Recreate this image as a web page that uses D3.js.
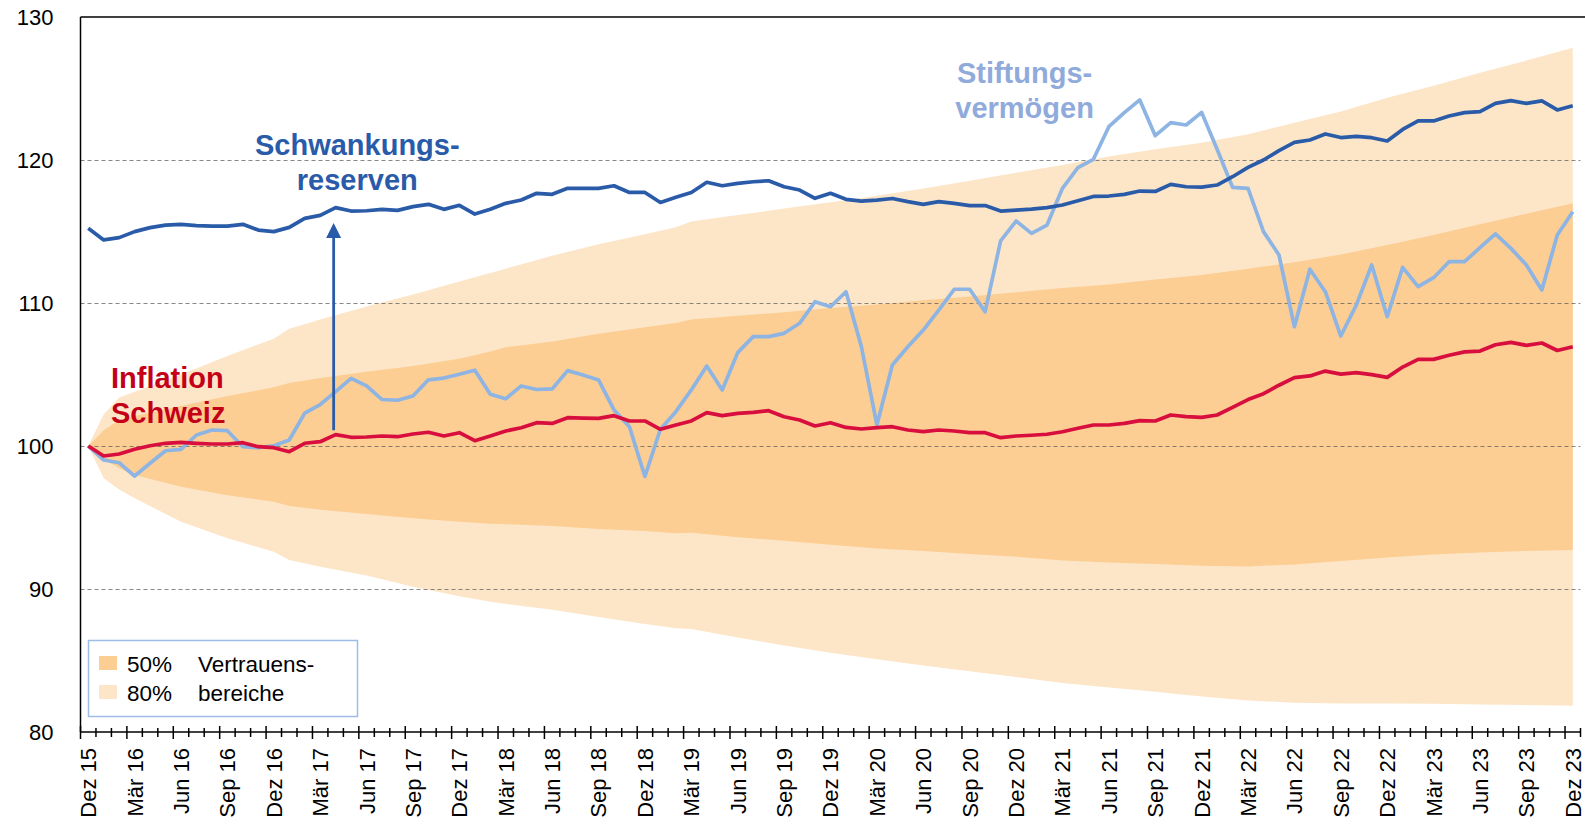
<!DOCTYPE html>
<html lang="de">
<head>
<meta charset="utf-8">
<title>Schwankungsreserven vs. Inflation</title>
<script src="https://cdn.jsdelivr.net/npm/d3@7"></script>
<style>
  body { margin: 0; background: #fff; }
  svg { display: block; font-family: Arial, "Liberation Sans", sans-serif; }
</style>
</head>
<body>
<svg id="chart" width="1585" height="824"></svg>
<script>
// Monatswerte Dez 15 .. Dez 23 (97 Monate), Index Dez 15 = 100
const tickLabels = [
  "Dez 15", "Mär 16", "Jun 16", "Sep 16", "Dez 16", "Mär 17", "Jun 17", "Sep 17", "Dez 17",
  "Mär 18", "Jun 18", "Sep 18", "Dez 18", "Mär 19", "Jun 19", "Sep 19", "Dez 19",
  "Mär 20", "Jun 20", "Sep 20", "Dez 20", "Mär 21", "Jun 21", "Sep 21", "Dez 21",
  "Mär 22", "Jun 22", "Sep 22", "Dez 22", "Mär 23", "Jun 23", "Sep 23", "Dez 23",
];

const reserven = [
  115.22, 114.41, 114.57, 114.99, 115.27, 115.45, 115.5, 115.41, 115.38, 115.38, 115.5, 115.1,
  114.99, 115.29, 115.92, 116.13, 116.67, 116.43, 116.45, 116.55, 116.48, 116.74, 116.9, 116.55,
  116.83, 116.22, 116.55, 116.97, 117.2, 117.67, 117.6, 118.02, 118.02, 118.02, 118.2, 117.73,
  117.73, 117.03, 117.39, 117.73, 118.44, 118.2, 118.37, 118.48, 118.55, 118.13, 117.9, 117.32,
  117.67, 117.25, 117.13, 117.2, 117.31, 117.09, 116.9, 117.09, 116.97, 116.81, 116.81, 116.43,
  116.5, 116.57, 116.67, 116.85, 117.15, 117.45, 117.48, 117.6, 117.83, 117.8, 118.3, 118.13,
  118.1, 118.25, 118.83, 119.48, 120.0, 120.65, 121.23, 121.4, 121.82, 121.57, 121.65, 121.56,
  121.33, 122.14, 122.73, 122.73, 123.08, 123.31, 123.38, 123.96, 124.15, 123.96, 124.13, 123.5,
  123.8,
];

const stiftung = [
  100, 99.02, 98.83, 97.9, 98.79, 99.67, 99.77, 100.77, 101.12, 101.07, 99.95, 99.88,
  100.02, 100.42, 102.3, 102.9, 103.8, 104.73, 104.2, 103.25, 103.2, 103.5, 104.63, 104.75,
  105.02, 105.3, 103.62, 103.3, 104.2, 103.95, 103.99, 105.27, 104.97, 104.62, 102.52, 101.35,
  97.87, 101.17, 102.4, 103.92, 105.59, 103.92, 106.53, 107.65, 107.65, 107.88, 108.58, 110.09,
  109.74, 110.79, 106.94, 101.47, 105.66, 106.94, 108.11, 109.51, 110.96, 110.96, 109.39, 114.34,
  115.73, 114.87, 115.45, 118.02, 119.46, 120.05, 122.33, 123.31, 124.2, 121.7, 122.61, 122.45,
  123.33, 120.75, 118.09, 118.02, 114.99, 113.36, 108.34, 112.36, 110.79, 107.69, 109.85, 112.66,
  109.04, 112.49, 111.14, 111.77, 112.89, 112.89, 113.87, 114.83, 113.82, 112.66, 110.91, 114.76,
  116.38,
];

const inflation = [
  100, 99.3, 99.44, 99.77, 100.02, 100.19, 100.26, 100.19, 100.14, 100.14, 100.23, 99.95,
  99.88, 99.6, 100.19, 100.3, 100.8, 100.61, 100.63, 100.7, 100.65, 100.84, 100.96, 100.7,
  100.93, 100.37, 100.7, 101.05, 101.28, 101.63, 101.58, 101.98, 101.95, 101.93, 102.12, 101.75,
  101.75, 101.17, 101.47, 101.75, 102.33, 102.12, 102.28, 102.35, 102.47, 102.05, 101.82, 101.4,
  101.63, 101.3, 101.19, 101.28, 101.35, 101.12, 101.0, 101.12, 101.05, 100.93, 100.93, 100.58,
  100.7, 100.75, 100.82, 101.0, 101.24, 101.47, 101.47, 101.58, 101.77, 101.75, 102.17, 102.05,
  102.0, 102.17, 102.7, 103.25, 103.66, 104.25, 104.78, 104.9, 105.24, 105.03, 105.13, 104.99,
  104.8, 105.52, 106.06, 106.06, 106.35, 106.58, 106.64, 107.08, 107.25, 107.04, 107.2, 106.68,
  106.94,
];

const bandMonths = [
  0, 1, 2, 3, 6, 9, 12, 13, 15, 18, 21, 24, 26, 27, 30, 33, 36, 38, 39,
  42, 45, 48, 51, 54, 57, 60, 63, 66, 69, 72, 75, 78, 81, 84, 87, 90, 93, 96,
];
const upper80 = [
  100, 102.2, 103.4, 103.8, 105.0, 106.3, 107.5, 108.2, 108.85, 109.75, 110.6, 111.5, 112.1, 112.4,
  113.3, 114.1, 114.8, 115.3, 115.7, 116.15, 116.6, 117.05, 117.5, 118.0, 118.55, 119.1, 119.65,
  120.25, 120.75, 121.2, 121.8, 122.6, 123.4, 124.35, 125.2, 126.1, 126.95, 127.85,
];
const upper50 = [
  100, 101.1, 101.8, 102.1, 102.8, 103.5, 104.1, 104.4, 104.75, 105.2, 105.6, 106.1, 106.6, 106.9,
  107.3, 107.85, 108.3, 108.6, 108.85, 109.1, 109.35, 109.65, 109.9, 110.2, 110.45, 110.75, 111.05,
  111.3, 111.65, 111.95, 112.4, 112.85, 113.4, 114.05, 114.75, 115.5, 116.25, 116.97,
];
const lower50 = [
  100, 99.07, 98.45, 97.97, 97.15, 96.55, 96.1, 95.8, 95.55, 95.25, 94.94, 94.7, 94.57, 94.53,
  94.4, 94.2, 94.05, 93.9, 93.94, 93.62, 93.38, 93.1, 92.83, 92.65, 92.45, 92.25, 92.0,
  91.85, 91.75, 91.62, 91.58, 91.72, 91.95, 92.2, 92.42, 92.55, 92.65, 92.73,
];
const lower80 = [
  100, 97.74, 96.95, 96.35, 94.7, 93.55, 92.6, 92.03, 91.55, 90.95, 90.16, 89.5, 89.1, 88.95,
  88.55, 88.05, 87.55, 87.25, 87.2, 86.6, 86.05, 85.55, 85.08, 84.65, 84.25, 83.85, 83.42,
  83.12, 82.82, 82.48, 82.2, 82.05, 82.0, 82.0, 81.97, 81.93, 81.88, 81.84,
];

const yTicks = [80, 90, 100, 110, 120, 130];
const gridValues = [90, 100, 110, 120];

const colors = {
  band80: "#FDE6C8",
  band50: "#FCCE94",
  reserven: "#2A5BA8",
  stiftung: "#8DB4E2",
  stiftungText: "#90ABDB",
  inflation: "#D80F3E",
  inflationText: "#C40018",
};

function renderChart() {
  const svg = d3.select("#chart"),
    margin = { top: 17, right: 4.5, bottom: 92, left: 80.5 },
    width = +svg.attr("width"),
    height = +svg.attr("height");

  const months = d3.range(reserven.length);

  const x = d3
    .scaleBand()
    .domain(months)
    .range([margin.left, width - margin.right]);
  const cx = (i) => x(i) + x.bandwidth() / 2;

  const y = d3
    .scaleLinear()
    .domain([80, 130])
    .range([height - margin.bottom, margin.top]);

  // Vertrauensbereiche
  const bandArea = (lo, hi) =>
    d3
      .area()
      .x((d, k) => cx(bandMonths[k]))
      .y0((d, k) => y(lo[k]))
      .y1((d, k) => y(hi[k]));

  svg
    .append("path")
    .datum(bandMonths)
    .attr("fill", colors.band80)
    .attr("d", bandArea(lower80, upper80));

  svg
    .append("path")
    .datum(bandMonths)
    .attr("fill", colors.band50)
    .attr("d", bandArea(lower50, upper50));

  // Gitterlinien
  svg
    .append("g")
    .selectAll("line")
    .data(gridValues)
    .enter()
    .append("line")
    .attr("x1", margin.left)
    .attr("x2", width - margin.right)
    .attr("y1", (d) => Math.round(y(d)) + 0.5)
    .attr("y2", (d) => Math.round(y(d)) + 0.5)
    .attr("stroke", "#555")
    .attr("stroke-opacity", 0.7)
    .attr("stroke-width", 1.2)
    .attr("stroke-dasharray", "4,3");

  // obere Begrenzung
  svg
    .append("line")
    .attr("x1", margin.left)
    .attr("x2", width)
    .attr("y1", y(130))
    .attr("y2", y(130))
    .attr("stroke", "#000")
    .attr("stroke-width", 1.5);

  // Linien
  const line = (values) =>
    d3
      .line()
      .x((d, i) => cx(i))
      .y((d) => y(d))(values);

  [
    [stiftung, colors.stiftung],
    [inflation, colors.inflation],
    [reserven, colors.reserven],
  ].forEach(([values, color]) => {
    svg
      .append("path")
      .attr("fill", "none")
      .attr("stroke", color)
      .attr("stroke-width", 3.7)
      .attr("stroke-linejoin", "round")
      .attr("d", line(values));
  });

  // Achsen
  const yAxis = svg.append("g");
  yAxis
    .append("line")
    .attr("x1", margin.left)
    .attr("x2", margin.left)
    .attr("y1", y(130))
    .attr("y2", y(80))
    .attr("stroke", "#000")
    .attr("stroke-width", 1.5);
  yAxis
    .selectAll("text")
    .data(yTicks)
    .enter()
    .append("text")
    .attr("x", margin.left - 27)
    .attr("y", (d) => y(d))
    .attr("dy", "0.36em")
    .attr("text-anchor", "end")
    .attr("font-size", "22px")
    .attr("fill", "#000")
    .text((d) => d);

  const xAxis = svg.append("g");
  const axisY = y(80);
  xAxis
    .append("line")
    .attr("x1", margin.left)
    .attr("x2", width - margin.right)
    .attr("y1", axisY)
    .attr("y2", axisY)
    .attr("stroke", "#000")
    .attr("stroke-width", 1.5);

  // Teilstriche an den Kategoriengrenzen
  const boundaries = d3.range(months.length + 1);
  xAxis
    .selectAll(".tick")
    .data(boundaries)
    .enter()
    .append("line")
    .attr("class", "tick")
    .attr("x1", (k) => margin.left + k * x.step())
    .attr("x2", (k) => margin.left + k * x.step())
    .attr("y1", (k) => (k % 3 === 0 ? axisY - 6 : axisY - 4))
    .attr("y2", (k) => (k % 3 === 0 ? axisY + 7 : axisY + 5))
    .attr("stroke", "#000")
    .attr("stroke-width", 1.5);

  xAxis
    .selectAll(".label")
    .data(tickLabels)
    .enter()
    .append("text")
    .attr("class", "label")
    .attr("transform", (d, k) => `translate(${cx(k * 3)},${axisY + 16}) rotate(-90)`)
    .attr("dy", "0.36em")
    .attr("text-anchor", "end")
    .attr("font-size", "22px")
    .attr("fill", "#000")
    .text((d) => d);

  // Pfeil
  const arrowIdx = 16,
    arrowFrom = 101.1,
    arrowTo = 115.6;
  const ax = cx(arrowIdx) - 2;
  svg
    .append("line")
    .attr("x1", ax)
    .attr("x2", ax)
    .attr("y1", y(arrowFrom))
    .attr("y2", y(arrowTo) + 12)
    .attr("stroke", colors.reserven)
    .attr("stroke-width", 2.8);
  svg
    .append("path")
    .attr("fill", colors.reserven)
    .attr("d", `M${ax},${y(arrowTo)} L${ax - 7.5},${y(arrowTo) + 15} L${ax + 7.5},${y(arrowTo) + 15} Z`);

  // Beschriftungen
  const labels = [
    { lines: ["Schwankungs-", "reserven"], idx: 17.4, value: 120.35, color: colors.reserven, anchor: "middle" },
    { lines: ["Inflation", "Schweiz"], idx: 1.47, value: 104.03, color: colors.inflationText, anchor: "start" },
    { lines: ["Stiftungs-", "vermögen"], idx: 60.55, value: 125.36, color: colors.stiftungText, anchor: "middle" },
  ];
  labels.forEach((l) => {
    const t = svg
      .append("text")
      .attr("text-anchor", l.anchor)
      .attr("font-size", "29px")
      .attr("font-weight", "bold")
      .attr("fill", l.color);
    l.lines.forEach((s, k) => {
      t.append("tspan")
        .attr("x", cx(0) + l.idx * x.step())
        .attr("y", y(l.value) + k * 35)
        .text(s);
    });
  });

  // Legende
  const legend = svg.append("g").attr("transform", `translate(${margin.left + 7.5},${y(80) - 92})`);
  legend
    .append("rect")
    .attr("x", 0.5)
    .attr("y", 0.5)
    .attr("width", 269)
    .attr("height", 76)
    .attr("fill", "#fff")
    .attr("stroke", "#9DBDE7")
    .attr("stroke-width", 1.5);
  [
    ["50%", "Vertrauens-", colors.band50],
    ["80%", "bereiche", colors.band80],
  ].forEach(([pct, txt, color], k) => {
    const yy = 16 + k * 29;
    legend
      .append("rect")
      .attr("x", 11)
      .attr("y", yy)
      .attr("width", 18)
      .attr("height", 14)
      .attr("fill", color);
    legend
      .append("text")
      .attr("x", 39)
      .attr("y", yy + 16)
      .attr("font-size", "22.5px")
      .attr("fill", "#000")
      .text(pct);
    legend
      .append("text")
      .attr("x", 110)
      .attr("y", yy + 16)
      .attr("font-size", "22.5px")
      .attr("fill", "#000")
      .text(txt);
  });
}

renderChart();
</script>
</body>
</html>
